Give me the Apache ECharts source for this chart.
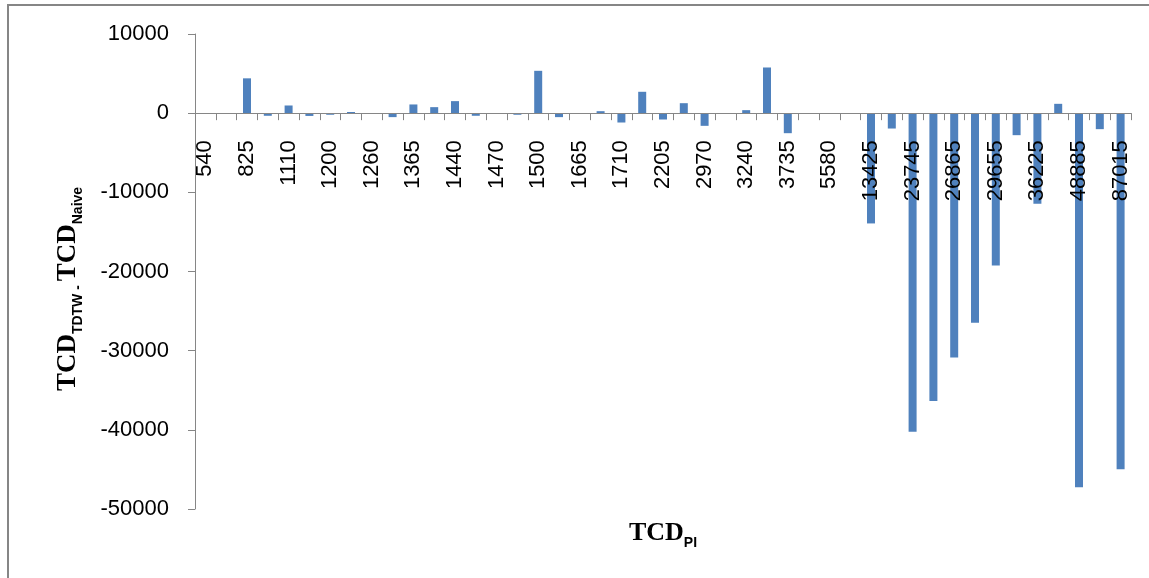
<!DOCTYPE html>
<html>
<head>
<meta charset="utf-8">
<script src="https://cdn.jsdelivr.net/npm/echarts@6/dist/echarts.min.js"></script>
<style>
  html, body { margin: 0; padding: 0; background: #fff; }
  #chart { width: 1149px; height: 578px; }
</style>
</head>
<body>
<div id="chart"></div>
<script>
// TCD_PI values printed under the axis (one label every second category)
const tickLabels = ['540', '825', '1110', '1200', '1260', '1365', '1440', '1470', '1500', '1665',
  '1710', '2205', '2970', '3240', '3735', '5580', '13425', '23745', '26865', '29655',
  '36225', '48885', '87015'];

// TCD_TDTW - TCD_Naive for each of the 45 categories, left to right
const diffValues = [
  0, 0, 4400, -330, 970, -350, -200, 150, -40, -500,
  1100, 760, 1520, -330, 0, -200, 5350, -500, 0, 250,
  -1180, 2700, -800, 1260, -1600, 0, 380, 5770, -2530, 0,
  0, 0, -13930, -1940, -40240, -36360, -30850, -26470, -19230, -2780,
  -11450, 1180, -47260, -2020, -44990
];

// value axis range and step
const yMin = -50000;
const yMax = 10000;
const yStep = 10000;

// labelled categories alternate with unlabelled ones
const categories = [];
tickLabels.forEach((lab, i) => {
  categories.push(lab);
  if (i < tickLabels.length - 1) categories.push('');
});

const axisGray = '#868686';
const barBlue = '#4F81BD';

const W = 1149, H = 578;
const grid = { left: 195, right: 18, top: 34, bottom: 69 };
const plotH = H - grid.top - grid.bottom;
// the category axis sits on the zero line, labels and ticks included
const zeroOffset = -plotH * (0 - yMin) / (yMax - yMin);

const chart = echarts.init(document.getElementById('chart'), null, { renderer: 'canvas', width: W, height: H });

chart.setOption({
  animation: false,
  backgroundColor: '#ffffff',
  grid: Object.assign({ outerBoundsMode: 'none', containLabel: false }, grid),
  xAxis: {
    type: 'category',
    data: categories,
    position: 'bottom',
    offset: zeroOffset,
    z: 3,
    axisLine: { onZero: false, lineStyle: { color: axisGray, width: 1 } },
    axisTick: { show: true, interval: 0, length: 7, lineStyle: { color: axisGray } },
    axisLabel: {
      interval: 0,
      rotate: 90,
      margin: 27,
      color: '#000',
      fontFamily: 'Liberation Sans',
      fontSize: 22
    },
    splitLine: { show: false }
  },
  yAxis: {
    type: 'value',
    min: yMin,
    max: yMax,
    interval: yStep,
    axisLine: { show: true, lineStyle: { color: axisGray, width: 1 } },
    axisTick: { show: true, length: 7, lineStyle: { color: axisGray } },
    splitLine: { show: false },
    axisLabel: {
      margin: 26,
      color: '#000',
      fontFamily: 'Liberation Sans',
      fontSize: 22,
      formatter: (v) => String(v)
    }
  },
  series: [{
    type: 'bar',
    data: diffValues,
    barWidth: 8,
    itemStyle: { color: barBlue }
  }],
  graphic: [
    {
      type: 'rect',
      silent: true,
      z: -1,
      shape: { x: 8, y: 5, width: 1400, height: 900 },
      style: { fill: 'none', stroke: axisGray, lineWidth: 2 }
    },
    {
      type: 'text',
      x: 663,
      y: 533,
      style: {
        text: '{m|TCD}{s|PI}',
        align: 'center',
        verticalAlign: 'middle',
        rich: {
          m: { fontFamily: 'Liberation Serif', fontWeight: 'bold', fontSize: 26, lineHeight: 34, fill: '#000' },
          s: { fontFamily: 'Liberation Sans', fontWeight: 'bold', fontSize: 14, lineHeight: 14, verticalAlign: 'bottom', fill: '#000' }
        }
      }
    },
    {
      type: 'text',
      x: 68,
      y: 289,
      rotation: Math.PI / 2,
      style: {
        text: '{m|TCD}{s|TDTW - }{m|TCD}{s|Naive}',
        align: 'center',
        verticalAlign: 'middle',
        rich: {
          m: { fontFamily: 'Liberation Serif', fontWeight: 'bold', fontSize: 27, lineHeight: 34, fill: '#000' },
          s: { fontFamily: 'Liberation Sans', fontWeight: 'bold', fontSize: 14, lineHeight: 14, verticalAlign: 'bottom', fill: '#000' }
        }
      }
    }
  ]
});
</script>
</body>
</html>
